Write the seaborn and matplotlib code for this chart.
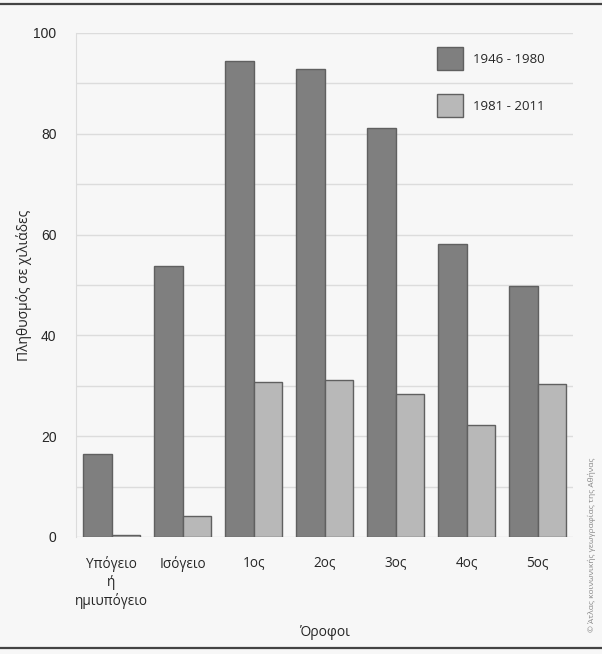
import pandas as pd
import matplotlib.pyplot as plt
import seaborn as sns
from matplotlib.lines import Line2D

# Data (thousands of people)
orofoi = ["Υπόγειο\nή\nημιυπόγειο", "Ισόγειο", "1ος", "2ος", "3ος", "4ος", "5ος"]
per_1946_1980 = [16.4, 53.8, 94.4, 92.9, 81.2, 58.1, 49.8]
per_1981_2011 = [0.4, 4.2, 30.8, 31.2, 28.4, 22.2, 30.4]
periods = ["1946 - 1980", "1981 - 2011"]

df = pd.DataFrame({
    "Όροφος": orofoi * 2,
    "Περίοδος": [periods[0]] * len(orofoi) + [periods[1]] * len(orofoi),
    "Πληθυσμός": per_1946_1980 + per_1981_2011,
})

bg = "#f7f7f7"
sns.set_style("white")
plt.rcParams["font.family"] = ["Open Sans", "DejaVu Sans"]

fig = plt.figure(figsize=(6.02, 6.54), dpi=100, facecolor=bg)
W, H = 602, 654
ax = fig.add_axes([76 / W, 1 - 537 / H, (573 - 76) / W, (537 - 33) / H])
ax.set_facecolor(bg)

sns.barplot(data=df, x="Όροφος", y="Πληθυσμός", hue="Περίοδος",
            palette=["#7f7f7f", "#b8b8b8"], edgecolor="#606060", linewidth=1,
            width=0.8, saturation=1, ax=ax, zorder=3)

ax.set_ylim(0, 100)
ax.set_xlim(-0.5, len(orofoi) - 0.5)
ax.set_yticks(range(0, 101, 20))
ax.set_yticks(range(10, 100, 20), minor=True)
ax.grid(axis="y", which="both", color="#dcdcdc", linewidth=1, zorder=0)
ax.set_axisbelow(True)
for s in ["top", "right", "bottom"]:
    ax.spines[s].set_visible(False)
ax.spines["left"].set_color("#dcdcdc")
ax.tick_params(axis="both", which="both", length=0)
ax.tick_params(axis="y", pad=14, labelsize=10)
ax.tick_params(axis="x", pad=14, labelsize=9.8)
for lab in ax.get_yticklabels():
    lab.set_family(["Liberation Sans", "DejaVu Sans"])
for lab in ax.get_xticklabels():
    lab.set_linespacing(1.25)

ax.set_xlabel("Όροφοι", fontsize=10)
ax.set_ylabel("Πληθυσμός σε χιλιάδες", fontsize=10)
ax.yaxis.set_label_coords(-0.105, 0.5)
ax.yaxis.label.set_va("center")
ax.xaxis.label.set_va("center")
ax.xaxis.set_label_coords(0.5, -96 / 504)

leg = ax.legend(loc="upper right", bbox_to_anchor=(0.967, 0.995), frameon=False,
                fontsize=9.5, handlelength=1.9, handleheight=2.3,
                labelspacing=1.8, handletextpad=0.8, borderaxespad=0.5)
leg.set_title(None)

# top and bottom frame lines
fig.add_artist(Line2D([0, 1], [1 - 4 / H, 1 - 4 / H], color="#444444", linewidth=1.6))
fig.add_artist(Line2D([0, 1], [1 - 648 / H, 1 - 648 / H], color="#444444", linewidth=1.6))

fig.text(592 / W, 1 - 545 / H, "© Άτλας κοινωνικής γεωγραφίας της Αθήνας",
         rotation=90, fontsize=6, color="#888888", ha="center", va="center")

plt.savefig("out.png", dpi=100, facecolor=bg)
